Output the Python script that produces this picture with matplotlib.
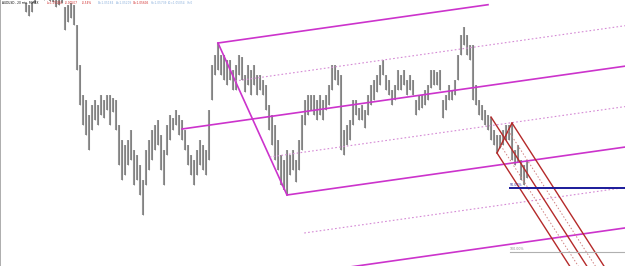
import matplotlib
matplotlib.use("Agg")
import matplotlib.pyplot as plt
import numpy as np

# ---- data -------------------------------------------------------------
highs = [1.05985, 1.05975, 1.05990, 1.06025, 1.06050, 1.06060, 1.06040, 1.06050, 1.06030, 1.06025,
         1.06010, 1.06015, 1.06020, 1.05965, 1.05975, 1.05985, 1.05975, 1.05875, 1.05675, 1.05525,
         1.05500, 1.05425, 1.05475, 1.05500, 1.05475, 1.05525, 1.05500, 1.05525, 1.05525, 1.05510,
         1.05500, 1.05375, 1.05300, 1.05275, 1.05300, 1.05350, 1.05250, 1.05225, 1.05175, 1.05100,
         1.05250, 1.05300, 1.05350, 1.05375, 1.05400, 1.05325, 1.05250, 1.05375, 1.05425, 1.05410,
         1.05450, 1.05425, 1.05400, 1.05350, 1.05275, 1.05225, 1.05200, 1.05250, 1.05300, 1.05275,
         1.05250, 1.05450, 1.05675, 1.05725, 1.05785, 1.05725, 1.05725, 1.05700, 1.05700, 1.05650,
         1.05675, 1.05725, 1.05715, 1.05625, 1.05675, 1.05650, 1.05675, 1.05625, 1.05625, 1.05600,
         1.05575, 1.05475, 1.05425, 1.05375, 1.05300, 1.05225, 1.05200, 1.05250, 1.05225, 1.05250,
         1.05200, 1.05300, 1.05425, 1.05500, 1.05525, 1.05525, 1.05525, 1.05500, 1.05525, 1.05500,
         1.05525, 1.05575, 1.05675, 1.05675, 1.05650, 1.05625, 1.05350, 1.05375, 1.05400, 1.05500,
         1.05500, 1.05460, 1.05475, 1.05450, 1.05525, 1.05575, 1.05600, 1.05625, 1.05675, 1.05700,
         1.05625, 1.05600, 1.05550, 1.05575, 1.05650, 1.05625, 1.05650, 1.05600, 1.05625, 1.05600,
         1.05500, 1.05525, 1.05525, 1.05550, 1.05575, 1.05650, 1.05650, 1.05640, 1.05650, 1.05500,
         1.05525, 1.05575, 1.05550, 1.05600, 1.05725, 1.05825, 1.05865, 1.05825, 1.05775, 1.05775,
         1.05575, 1.05500, 1.05475, 1.05450, 1.05425, 1.05415, 1.05350, 1.05325, 1.05325, 1.05350,
         1.05375, 1.05375, 1.05385, 1.05250, 1.05275, 1.05200, 1.05175, 1.05200]
lows = [1.05940, 1.05920, 1.05940, 1.05985, 1.06010, 1.06020, 1.06000, 1.06015, 1.05995, 1.05990,
        1.05965, 1.05975, 1.05985, 1.05850, 1.05890, 1.05910, 1.05875, 1.05650, 1.05475, 1.05375,
        1.05325, 1.05250, 1.05350, 1.05400, 1.05375, 1.05425, 1.05410, 1.05450, 1.05375, 1.05440,
        1.05350, 1.05175, 1.05100, 1.05125, 1.05175, 1.05200, 1.05075, 1.05100, 1.05025, 1.04925,
        1.05075, 1.05150, 1.05200, 1.05250, 1.05275, 1.05150, 1.05075, 1.05225, 1.05300, 1.05350,
        1.05375, 1.05325, 1.05300, 1.05250, 1.05175, 1.05125, 1.05075, 1.05125, 1.05175, 1.05150,
        1.05125, 1.05200, 1.05500, 1.05625, 1.05650, 1.05625, 1.05600, 1.05575, 1.05600, 1.05550,
        1.05550, 1.05625, 1.05600, 1.05540, 1.05575, 1.05525, 1.05575, 1.05525, 1.05550, 1.05525,
        1.05450, 1.05350, 1.05275, 1.05200, 1.05150, 1.05075, 1.05050, 1.05025, 1.05125, 1.05150,
        1.05090, 1.05150, 1.05250, 1.05375, 1.05425, 1.05450, 1.05425, 1.05400, 1.05425, 1.05400,
        1.05450, 1.05475, 1.05550, 1.05600, 1.05575, 1.05250, 1.05225, 1.05275, 1.05300, 1.05375,
        1.05425, 1.05400, 1.05400, 1.05360, 1.05425, 1.05475, 1.05500, 1.05540, 1.05575, 1.05625,
        1.05550, 1.05525, 1.05475, 1.05500, 1.05550, 1.05550, 1.05575, 1.05525, 1.05550, 1.05525,
        1.05425, 1.05450, 1.05460, 1.05475, 1.05500, 1.05560, 1.05575, 1.05575, 1.05550, 1.05410,
        1.05450, 1.05500, 1.05500, 1.05525, 1.05600, 1.05725, 1.05775, 1.05725, 1.05700, 1.05500,
        1.05475, 1.05425, 1.05400, 1.05375, 1.05350, 1.05300, 1.05275, 1.05235, 1.05260, 1.05275,
        1.05300, 1.05300, 1.05200, 1.05175, 1.05190, 1.05100, 1.05075, 1.05110]

# magenta pitchfork anchors (bar index, price)
fork_p0 = (52, 1.05355)
fork_a = (64, 1.05785)
fork_b = (87, 1.05025)
fork_top_end = 154

# red pitchfork anchors
red_p0 = (155, 1.05415)
red_a = (162, 1.05385)
red_b = (157, 1.05235)

# retracement levels
level_start = 161.3
level_prices = [1.05060, 1.04740]
level_labels = ["50.00%", "100.00%"]

header = [("AUDUSD - 20 min. FOREX", 2, "#000000"),
          ("L=1.05184", 47, "#d02828"),
          ("-0.00507", 65, "#d02828"),
          ("-0.54%", 82, "#d02828"),
          ("B=1.05184", 98, "#8ab0dc"),
          ("A=1.05209", 116, "#8ab0dc"),
          ("O=1.05605", 133, "#d02828"),
          ("H=1.05739", 151, "#8ab0dc"),
          ("L0=1.05054", 168, "#8ab0dc"),
          ("V=0", 187, "#8ab0dc")]

# ---- figure ------------------------------------------------------------
W, H = 625, 266
fig = plt.figure(figsize=(W / 100, H / 100), dpi=100)
ax = fig.add_axes([0, 0, 1, 1])
XMIN, XMAX = -26 / 3, 599 / 3
ax.set_xlim(XMIN, XMAX)
ax.set_ylim(1.0467, 1.0600)
ax.set_xticks([])
ax.set_yticks([])
for s in ["top", "right", "bottom"]:
    ax.spines[s].set_visible(False)
ax.spines["left"].set_color("#a0a0a0")
ax.spines["left"].set_linewidth(1.2)

idx = np.arange(len(highs))
ax.vlines(idx, lows, highs, color="#959595", lw=1.5, zorder=2)
ax.vlines(idx, lows, highs, color="#7a7a7a", lw=0.5, zorder=2)

MAG = "#cc33cc"
MAGD = "#d58ad5"


def ray(start, d, xend):
    t = (xend - start[0]) / d[0]
    return [start[0], xend], [start[1], start[1] + t * d[1]]


# magenta pitchfork
mid = ((fork_a[0] + fork_b[0]) / 2, (fork_a[1] + fork_b[1]) / 2)
d = (mid[0] - fork_p0[0], mid[1] - fork_p0[1])
off = (fork_b[0] - mid[0], fork_b[1] - mid[1])
xs, ys = ray(fork_p0, d, XMAX)
ax.plot(xs, ys, color=MAG, lw=1.2, zorder=3)
ax.plot([fork_a[0], fork_b[0]], [fork_a[1], fork_b[1]], color=MAG, lw=1.2, zorder=3)
xs, ys = ray(fork_a, d, fork_top_end)
ax.plot(xs, ys, color=MAG, lw=1.2, zorder=3)
for k in [-0.5, 0.5, 1.0, 1.5, 2.0]:
    st = (mid[0] + k * off[0], mid[1] + k * off[1])
    xs, ys = ray(st, d, XMAX)
    if k in (1.0, 2.0):
        ax.plot(xs, ys, color=MAG, lw=1.2, zorder=3)
    else:
        ax.plot(xs, ys, color=MAGD, lw=0.8, ls=(0, (1.5, 2)), zorder=3)

# red pitchfork
RED = "#b52a2a"
REDD = "#d08080"
rmid = ((red_a[0] + red_b[0]) / 2, (red_a[1] + red_b[1]) / 2)
rd = (rmid[0] - red_p0[0], rmid[1] - red_p0[1])
roff = (red_b[0] - rmid[0], red_b[1] - rmid[1])
xs, ys = ray(red_p0, rd, XMAX)
ax.plot(xs, ys, color=RED, lw=1.0, zorder=4)
ax.plot([red_a[0], red_b[0]], [red_a[1], red_b[1]], color=RED, lw=1.0, zorder=4)
for k in [-1.0, -0.5, 0.5, 1.0]:
    st = (rmid[0] + k * roff[0], rmid[1] + k * roff[1])
    xs, ys = ray(st, rd, XMAX)
    if abs(k) == 1.0:
        ax.plot(xs, ys, color=RED, lw=1.0, zorder=4)
    else:
        ax.plot(xs, ys, color=REDD, lw=0.7, ls=(0, (1.5, 2)), zorder=4)

# levels
ax.plot([level_start, XMAX], [level_prices[0]] * 2, color="#1a1a9a", lw=1.4, zorder=5)
ax.plot([level_start, XMAX], [level_prices[1]] * 2, color="#b0b0b0", lw=0.8, zorder=5)
ax.text(level_start, level_prices[0] + 0.00005, level_labels[0], fontsize=2.3,
        color="#3030a0", va="bottom", ha="left", zorder=6)
ax.text(level_start, level_prices[1] + 0.00005, level_labels[1], fontsize=2.3,
        color="#909090", va="bottom", ha="left", zorder=6)

# header
for txt, xp, col in header:
    fig.text(xp / W, 1 - 1.5 / H, txt, fontsize=2.1, color=col, ha="left", va="top")

fig.savefig("out.png", dpi=100, facecolor="white")
